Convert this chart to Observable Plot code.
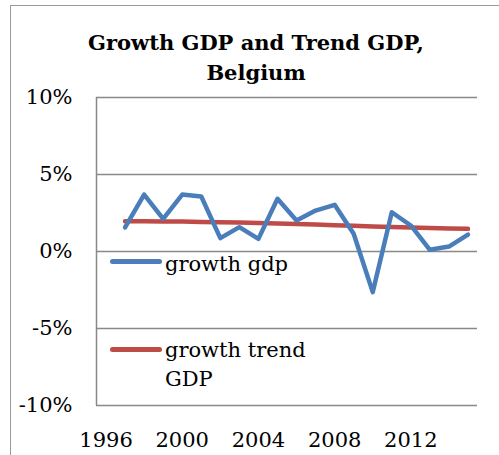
<!DOCTYPE html>
<html>
<head>
<meta charset="utf-8">
<script src="https://cdn.jsdelivr.net/npm/d3@7"></script>
<script src="https://cdn.jsdelivr.net/npm/@observablehq/plot@0.6"></script>
<style>
  html, body { margin: 0; padding: 0; background: #fff; }
  #wrap { position: relative; width: 499px; height: 455px; overflow: hidden; font-family: "DejaVu Serif", serif; }
  #frame { position: absolute; left: 10px; top: 5px; width: 600px; height: 600px; border-left: 1.5px solid #9a9a9a; border-top: 1.5px solid #9a9a9a; pointer-events: none; }
  #title { position: absolute; left: 10px; width: 492px; top: 28px; text-align: center; font-weight: bold; font-size: 21px; line-height: 30px; color: #000; }
  #chart { position: absolute; left: 0; top: 87px; }
  .leg { position: absolute; font-size: 21px; color: #000; }
  .swatch { position: absolute; height: 5px; border-radius: 3px; }
</style>
</head>
<body>
<div id="wrap">
  <div id="chart"></div>
  <div id="title"></div>
  <div id="legend"></div>
  <div id="frame"></div>
</div>
<script>
const titleLines = ["Growth GDP and Trend GDP,", "Belgium"];
const years = [1997, 1998, 1999, 2000, 2001, 2002, 2003, 2004, 2005, 2006, 2007, 2008, 2009, 2010, 2011, 2012, 2013, 2014, 2015];
const growthGdp = [1.56, 3.70, 2.12, 3.70, 3.57, 0.87, 1.58, 0.82, 3.42, 2.01, 2.66, 3.03, 1.15, -2.64, 2.55, 1.69, 0.11, 0.32, 1.10];
const trendGdp = [1.97, 1.96, 1.95, 1.94, 1.92, 1.90, 1.88, 1.85, 1.82, 1.79, 1.75, 1.71, 1.67, 1.63, 1.59, 1.56, 1.53, 1.50, 1.47];
const xTicks = [1996, 2000, 2004, 2008, 2012];
const yTicks = [-10, -5, 0, 5, 10];
const seriesNames = ["growth gdp", "growth trend\nGDP"];
const colors = ["#4a7ebb", "#be4b48"];

document.getElementById("title").innerHTML = titleLines.join("<br>");

const gdpData = years.map((y, i) => ({year: y, value: growthGdp[i]}));
const trendData = years.map((y, i) => ({year: y, value: trendGdp[i]}));

const chart = Plot.plot({
  width: 499,
  height: 368,
  marginLeft: 96,
  marginRight: 22,
  marginTop: 10,
  marginBottom: 50,
  style: {fontFamily: "DejaVu Serif", fontSize: "21px", background: "none", color: "#000", overflow: "visible"},
  x: {type: "linear", domain: [1995.5, 2015.5]},
  y: {domain: [-10, 10]},
  marks: [
    Plot.ruleY(yTicks, {stroke: "#898989", strokeWidth: 1.5}),
    Plot.ruleX([1995.5], {stroke: "#898989", strokeWidth: 1.5}),
    Plot.axisY({ticks: yTicks, tickFormat: d => d + "%", tickSize: 0, tickPadding: 24, label: null, fontSize: 21}),
    Plot.axisX({ticks: xTicks, tickFormat: d => String(d), tickSize: 0, tickPadding: 27, label: null, fontSize: 21}),
    Plot.line(trendData, {x: "year", y: "value", stroke: colors[1], strokeWidth: 4.5, strokeLinecap: "round", strokeLinejoin: "round"}),
    Plot.line(gdpData, {x: "year", y: "value", stroke: colors[0], strokeWidth: 4.5, strokeLinecap: "round", strokeLinejoin: "round"})
  ]
});
document.getElementById("chart").appendChild(chart);

const legendSpec = [
  {name: seriesNames[0], color: colors[0], lineY: 261, textTop: 250},
  {name: seriesNames[1], color: colors[1], lineY: 349, textTop: 336}
];
const legend = document.getElementById("legend");
legendSpec.forEach(s => {
  const sw = document.createElement("div");
  sw.className = "swatch";
  sw.style.left = "110px";
  sw.style.width = "52px";
  sw.style.top = (s.lineY - 2.5) + "px";
  sw.style.background = s.color;
  legend.appendChild(sw);
  const t = document.createElement("div");
  t.className = "leg";
  t.style.left = "165px";
  t.style.top = s.textTop + "px";
  t.style.lineHeight = "29px";
  t.innerHTML = s.name.split("\n").join("<br>");
  legend.appendChild(t);
});
</script>
</body>
</html>
